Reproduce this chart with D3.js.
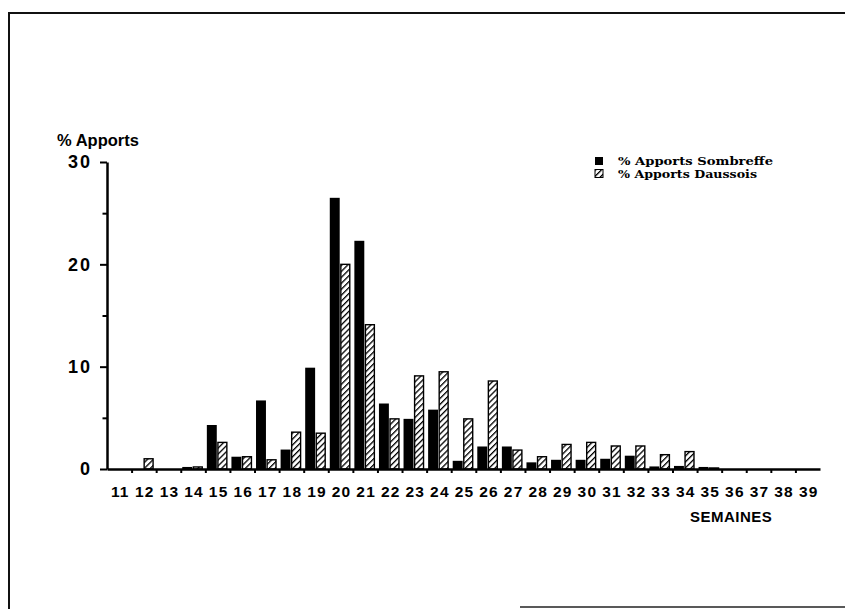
<!DOCTYPE html>
<html>
<head>
<meta charset="utf-8">
<script src="https://cdn.jsdelivr.net/npm/d3@7"></script>
<style>
  body { margin: 0; background: #fff; }
  svg { display: block; }
  .axis path, .axis line { stroke: #000; }
</style>
</head>
<body>
<div id="chart"></div>
<script>
// semaines 11 -> 39
const weeks = d3.range(11, 40).map(String);
const sombreffe = [0, 0, 0, 0.2, 4.3, 1.2, 6.7, 1.9, 9.9, 26.5, 22.3, 6.4, 4.9, 5.8, 0.8, 2.2, 2.2, 0.65, 0.9, 0.9, 1.0, 1.3, 0.25, 0.3, 0.2, 0, 0, 0, 0];
const daussois = [0, 1.0, 0, 0.2, 2.6, 1.2, 0.9, 3.6, 3.5, 20.0, 14.1, 4.9, 9.1, 9.5, 4.9, 8.6, 1.85, 1.2, 2.4, 2.6, 2.25, 2.25, 1.4, 1.7, 0.1, 0, 0, 0, 0];
const seriesNames = ['% Apports Sombreffe', '% Apports Daussois'];
const yMajor = [0, 10, 20, 30];
const yMinor = [5, 15, 25];

const svgWidth = 845, svgHeight = 609;
const x0 = 107, x1 = 820, yBase = 469, yTop = 162;

const svg = d3.select('#chart')
    .append('svg')
    .attr('width', svgWidth)
    .attr('height', svgHeight);

svg.append('rect').attr('width', svgWidth).attr('height', svgHeight).attr('fill', '#fff');

// cadre de la page photocopiée
svg.append('path')
    .attr('d', `M9,${svgHeight} L9,13 L${svgWidth},13`)
    .attr('fill', 'none').attr('stroke', '#111').attr('stroke-width', 2);
svg.append('line')
    .attr('x1', 520).attr('x2', svgWidth).attr('y1', 607).attr('y2', 607)
    .attr('stroke', '#222').attr('stroke-width', 1.5);

const defs = svg.append('defs');
const pat = defs.append('pattern')
    .attr('id', 'hatch')
    .attr('patternUnits', 'userSpaceOnUse')
    .attr('width', 4.2).attr('height', 4.2)
    .attr('patternTransform', 'rotate(45)');
pat.append('rect').attr('width', 4.2).attr('height', 4.2).attr('fill', '#fff');
pat.append('line')
    .attr('x1', 0).attr('y1', 0).attr('x2', 0).attr('y2', 4.2)
    .attr('stroke', '#000').attr('stroke-width', 2.6);

const xScale = d3.scaleBand()
    .domain(weeks)
    .range([x0, x1])
    .padding(0);

const inner = d3.scaleBand()
    .domain(['s', 'd'])
    .range([1.5, 22])
    .paddingInner(0.06);

const yScale = d3.scaleLinear()
    .domain([0, 30])
    .range([yBase, yTop]);

const data = weeks.map((w, i) => ({ week: w, s: sombreffe[i], d: daussois[i] }));

// barres Sombreffe
svg.append('g').selectAll('rect')
    .data(data)
    .join('rect')
    .attr('x', d => xScale(d.week) + inner('s'))
    .attr('y', d => yScale(d.s))
    .attr('width', inner.bandwidth())
    .attr('height', d => yBase - yScale(d.s))
    .attr('fill', '#000');

// barres Daussois
svg.append('g').selectAll('rect')
    .data(data.filter(d => d.d > 0))
    .join('rect')
    .attr('x', d => xScale(d.week) + inner('d') + 0.5)
    .attr('y', d => yScale(d.d))
    .attr('width', inner.bandwidth() - 1)
    .attr('height', d => yBase - yScale(d.d))
    .attr('fill', 'url(#hatch)')
    .attr('stroke', '#000')
    .attr('stroke-width', 1.4);

// axe Y
const yAxis = svg.append('g')
    .attr('class', 'axis')
    .attr('transform', `translate(${x0}, 0)`)
    .call(d3.axisLeft(yScale).tickValues(yMajor).tickSize(7).tickPadding(8).tickSizeOuter(0));
yAxis.select('.domain').attr('stroke-width', 2.5);
yAxis.selectAll('.tick line').attr('stroke-width', 2);
yAxis.selectAll('text')
    .attr('font-family', '"Liberation Sans", Arial, sans-serif')
    .attr('font-weight', 'bold')
    .attr('font-size', 18)
    .attr('letter-spacing', 2)
    .attr('fill', '#000');

const yMinorAxis = svg.append('g')
    .attr('class', 'axis')
    .attr('transform', `translate(${x0}, 0)`)
    .call(d3.axisLeft(yScale).tickValues(yMinor).tickSize(4.5).tickFormat(''));
yMinorAxis.select('.domain').remove();
yMinorAxis.selectAll('.tick line').attr('stroke-width', 2);

// axe X : traits aux limites des semaines
const xEdges = d3.scaleLinear().domain([0, weeks.length]).range([x0, x1]);
const xAxis = svg.append('g')
    .attr('class', 'axis')
    .attr('transform', `translate(0, ${yBase})`)
    .call(d3.axisBottom(xEdges).tickValues(d3.range(1, weeks.length)).tickSize(4).tickFormat('').tickSizeOuter(0));
xAxis.select('.domain').attr('stroke-width', 2.5);
xAxis.selectAll('.tick line').attr('stroke-width', 2);

const xLabels = svg.append('g')
    .attr('class', 'axis')
    .attr('transform', `translate(0, ${yBase})`)
    .call(d3.axisBottom(xScale).tickSize(0).tickPadding(17));
xLabels.select('.domain').remove();
xLabels.selectAll('text')
    .attr('font-family', '"Liberation Sans", Arial, sans-serif')
    .attr('font-weight', 'bold')
    .attr('font-size', 15.5)
    .attr('letter-spacing', 1.2)
    .attr('dx', 1)
    .attr('fill', '#000');

// titres
svg.append('text')
    .attr('x', 57).attr('y', 146)
    .attr('font-family', '"Liberation Sans", Arial, sans-serif')
    .attr('font-weight', 'bold')
    .attr('font-size', 16.5)
    .text('% Apports');

svg.append('text')
    .attr('x', 690).attr('y', 522)
    .attr('font-family', '"Liberation Sans", Arial, sans-serif')
    .attr('font-weight', 'bold')
    .attr('font-size', 15)
    .attr('letter-spacing', 0.5)
    .text('SEMAINES');

// légende
const legend = svg.append('g').attr('transform', 'translate(595, 157)');
const legendRows = legend.selectAll('g')
    .data(seriesNames)
    .join('g')
    .attr('transform', (d, i) => `translate(0, ${i * 12.5})`);
legendRows.append('rect')
    .attr('width', 8).attr('height', 8)
    .attr('fill', (d, i) => i === 0 ? '#000' : 'url(#hatch)')
    .attr('stroke', '#000')
    .attr('stroke-width', (d, i) => i === 0 ? 0 : 1);
legendRows.append('text')
    .attr('x', 23).attr('y', 8)
    .attr('font-family', '"DejaVu Serif", "Liberation Serif", serif')
    .attr('font-size', 11)
    .attr('font-weight', 'bold')
    .attr('textLength', (d, i) => i === 0 ? 155 : 139)
    .attr('lengthAdjust', 'spacingAndGlyphs')
    .text(d => d);
</script>
</body>
</html>
